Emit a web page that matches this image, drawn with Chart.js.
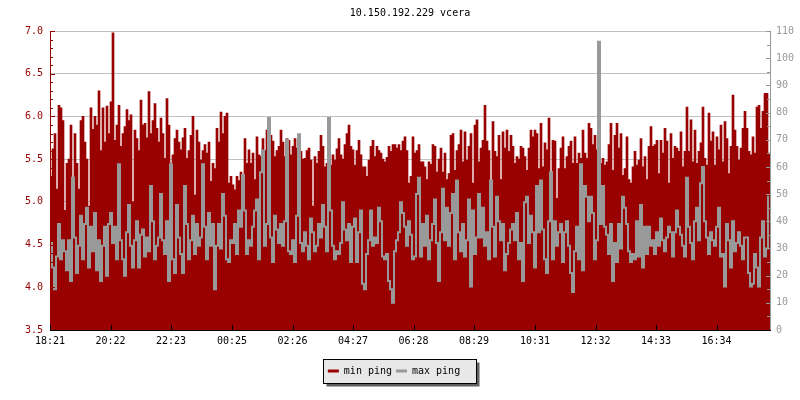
<!DOCTYPE html>
<html>
<head>
<meta charset="utf-8">
<title>10.150.192.229 vcera</title>
<script src="https://cdn.jsdelivr.net/npm/chart.js@4.4.1/dist/chart.umd.min.js"></script>
<style>
  html, body { margin: 0; padding: 0; background: #ffffff; }
  #wrap { width: 800px; height: 400px; }
</style>
</head>
<body>
<div id="wrap"><canvas id="ping-chart" width="800" height="400"></canvas></div>
<script>
// popisky a data (4 minutovy krok)
const chartTitle = '10.150.192.229 vcera';
const seriesNames = ['min ping', 'max ping'];
const tickLabels = ['18:21', '20:22', '22:23', '00:25', '02:26', '04:27',
                    '06:28', '08:29', '10:31', '12:32', '14:33', '16:34'];
const stepMinutes = 4;

// min ping, leva osa (ms), jeden radek = 2 hodiny
const minPing = [
  5.30, 5.62, 5.80, 5.15, 6.13, 6.10, 5.95, 4.90, 5.45, 5.50, 5.90, 5.20, 5.80, 5.45, 5.15, 5.95, 6.00, 5.70, 5.50, 4.95, 6.10, 5.85, 6.00, 5.90, 6.30, 5.60, 6.10, 5.70, 6.12, 5.80,
  6.17, 6.98, 5.72, 5.90, 6.13, 5.65, 5.80, 5.88, 6.08, 5.95, 6.02, 5.00, 5.84, 5.74, 5.60, 6.19, 5.90, 5.92, 5.75, 6.29, 5.80, 5.95, 6.15, 5.86, 5.70, 5.98, 5.80, 5.51, 6.21, 5.90,
  5.45, 5.55, 5.74, 5.84, 5.70, 5.61, 5.75, 5.86, 5.51, 5.60, 5.78, 6.00, 5.08, 5.84, 5.70, 5.49, 5.60, 5.67, 5.57, 5.70, 5.24, 5.45, 5.39, 5.86, 5.70, 6.05, 5.80, 6.00, 6.04, 5.22,
  5.30, 5.20, 5.14, 5.30, 5.25, 5.35, 5.20, 5.74, 5.45, 5.61, 5.45, 5.57, 5.26, 5.76, 5.55, 5.53, 5.74, 5.60, 5.84, 5.65, 5.78, 5.71, 5.53, 5.60, 5.65, 5.84, 5.70, 5.53, 5.74, 5.72,
  5.55, 5.65, 5.74, 5.63, 5.63, 5.59, 5.50, 5.51, 5.60, 5.63, 5.49, 4.95, 5.53, 5.45, 5.59, 5.78, 5.65, 5.41, 5.45, 5.43, 5.43, 5.55, 5.49, 5.62, 5.74, 5.55, 5.50, 5.67, 5.80, 5.90,
  5.65, 5.61, 5.43, 5.60, 5.72, 5.55, 5.41, 5.41, 5.30, 5.49, 5.65, 5.72, 5.53, 5.65, 5.60, 5.57, 5.50, 5.47, 5.52, 5.65, 5.59, 5.67, 5.67, 5.63, 5.67, 5.60, 5.71, 5.76, 5.60, 5.22,
  5.30, 5.76, 5.57, 5.60, 5.67, 5.47, 5.47, 5.41, 5.26, 5.47, 5.44, 5.67, 5.65, 5.35, 5.50, 5.63, 5.35, 5.57, 5.26, 5.33, 5.78, 5.80, 5.37, 5.60, 5.67, 5.84, 5.47, 5.82, 5.49, 5.65,
  5.80, 5.22, 5.90, 5.96, 5.47, 5.63, 5.72, 6.13, 5.71, 5.60, 5.12, 5.94, 5.59, 5.53, 5.78, 5.26, 5.82, 5.63, 5.84, 5.59, 5.78, 5.65, 5.45, 5.53, 5.50, 5.65, 5.63, 5.53, 5.37, 5.63,
  5.84, 5.76, 5.84, 5.80, 5.39, 5.92, 5.41, 5.69, 5.61, 5.98, 5.14, 5.72, 5.71, 5.04, 5.39, 5.63, 5.76, 5.39, 5.53, 5.65, 5.71, 5.45, 5.76, 5.45, 5.57, 5.51, 5.84, 5.57, 5.51, 5.92,
  5.86, 5.67, 5.78, 5.61, 5.59, 5.45, 5.51, 5.43, 5.47, 5.67, 5.92, 5.37, 5.78, 5.92, 5.63, 5.80, 5.31, 5.39, 5.76, 5.26, 5.22, 5.41, 5.59, 5.43, 5.49, 5.74, 5.41, 5.53, 5.26, 5.65,
  5.88, 5.65, 5.67, 5.72, 5.33, 5.72, 5.57, 5.86, 5.71, 5.22, 5.80, 5.51, 5.65, 5.63, 5.59, 5.82, 5.41, 5.59, 6.11, 5.59, 5.96, 5.47, 5.84, 5.45, 5.59, 5.69, 6.11, 5.51, 5.43, 6.04,
  5.71, 5.82, 5.43, 5.76, 5.61, 5.90, 5.47, 5.94, 5.74, 5.33, 5.65, 6.25, 5.84, 5.65, 5.49, 5.63, 5.86, 6.06, 5.86, 5.59, 5.55, 5.76, 5.57, 6.11, 6.13, 5.86, 6.06, 6.27, 6.27, 5.57
];

// max ping, prava osa (ms)
const maxPing = [
  32, 23, 15, 27, 39, 26, 33, 29, 22, 33, 18, 56, 34, 21, 31, 42, 26, 39, 45, 23, 38, 29, 43, 22, 33, 18, 31, 38, 20, 39,
  43, 32, 38, 26, 61, 33, 26, 20, 36, 46, 31, 23, 33, 40, 23, 35, 37, 27, 34, 29, 53, 40, 26, 31, 34, 50, 33, 28, 40, 18,
  61, 26, 21, 46, 34, 28, 21, 53, 39, 26, 33, 42, 28, 39, 31, 34, 61, 38, 26, 43, 31, 39, 15, 31, 39, 30, 50, 42, 26, 25,
  33, 32, 39, 28, 44, 38, 57, 44, 28, 33, 31, 38, 44, 48, 26, 58, 66, 31, 39, 78, 34, 25, 42, 37, 32, 39, 31, 40, 70, 29,
  28, 33, 25, 42, 72, 32, 29, 36, 31, 26, 41, 36, 29, 31, 39, 34, 46, 38, 29, 78, 44, 31, 26, 29, 28, 32, 47, 37, 33, 39,
  25, 38, 41, 25, 36, 44, 17, 15, 28, 33, 44, 31, 34, 32, 45, 40, 27, 26, 28, 18, 15, 10, 29, 33, 36, 47, 43, 38, 31, 40,
  35, 26, 27, 50, 56, 27, 39, 31, 42, 26, 33, 39, 48, 32, 18, 36, 52, 33, 45, 31, 43, 50, 26, 55, 36, 29, 39, 27, 33, 48,
  16, 44, 28, 34, 50, 34, 45, 31, 36, 26, 55, 38, 27, 49, 40, 33, 39, 22, 28, 32, 37, 39, 33, 43, 26, 32, 18, 47, 49, 32,
  42, 36, 23, 53, 36, 55, 37, 26, 21, 40, 58, 26, 40, 31, 36, 39, 25, 36, 40, 31, 21, 14, 29, 38, 26, 61, 22, 53, 49, 40,
  49, 43, 26, 33, 106, 39, 53, 38, 35, 28, 39, 18, 32, 25, 39, 30, 49, 45, 39, 29, 25, 28, 26, 40, 27, 46, 23, 38, 28, 38,
  31, 33, 28, 36, 31, 41, 33, 29, 34, 38, 36, 27, 36, 44, 38, 35, 31, 27, 56, 38, 32, 26, 40, 45, 33, 54, 60, 40, 34, 28,
  36, 33, 31, 38, 45, 27, 28, 16, 39, 33, 23, 40, 29, 32, 36, 31, 26, 34, 34, 21, 16, 17, 28, 23, 16, 34, 40, 27, 30, 49
];

const minColor = '#990000';
const maxColor = '#999999';
const gridColor = '#c0c0c0';

// pozice popisku casu v minutach od zacatku grafu
const toMinutes = s => {
    const [h, m] = s.split(':').map(Number);
    return h * 60 + m;
};
const startMinutes = toMinutes(tickLabels[0]);
const tickOffsets = tickLabels.map(s => (toMinutes(s) - startMinutes + 1440) % 1440);
const spanMinutes = minPing.length * stepMinutes;

Chart.defaults.font.family = "'DejaVu Sans Mono', monospace";
Chart.defaults.font.size = 10;
Chart.defaults.color = '#000000';

// legenda o kousek doleva, jako na predloze
const legendShift = {
    id: 'legendShift',
    afterLayout(chart) {
        if (!chart.legend) return;
        chart.legend.left -= 6;
        chart.legend.right -= 6;
    }
};

// ramecek legendy se stinem
const legendFrame = {
    id: 'legendFrame',
    beforeDraw(chart) {
        const lg = chart.legend;
        if (!lg || !lg.legendHitBoxes || !lg.legendHitBoxes.length) return;
        const boxes = lg.legendHitBoxes;
        const first = boxes[0];
        const last = boxes[boxes.length - 1];
        const ctx = chart.ctx;
        const x = Math.round(first.left - 5) + 0.5;
        const y = Math.round(lg.top - 3) + 0.5;
        const w = Math.round(last.left + last.width + 16 - (first.left - 5));
        const h = 24;
        ctx.save();
        ctx.fillStyle = '#606060';
        ctx.fillRect(x + 3, y + 3, w, h);
        ctx.fillStyle = '#e8e8e8';
        ctx.fillRect(x, y, w, h);
        ctx.strokeStyle = '#000000';
        ctx.lineWidth = 1;
        ctx.strokeRect(x, y, w, h);
        ctx.restore();
    }
};

// osy s carkami smerem dovnitr grafu
const axisPainter = {
    id: 'axisPainter',
    afterDatasetsDraw(chart) {
        const {ctx, chartArea: a, scales} = chart;
        const px = v => Math.round(v) + 0.5;
        ctx.save();
        ctx.lineWidth = 1;

        ctx.strokeStyle = minColor;
        ctx.beginPath();
        ctx.moveTo(px(a.left), a.top);
        ctx.lineTo(px(a.left), a.bottom);
        for (let v = 35; v <= 70; v++) {
            const y = px(scales.y.getPixelForValue(v / 10));
            ctx.moveTo(a.left, y);
            ctx.lineTo(a.left + (v % 5 === 0 ? 5 : 3), y);
        }
        ctx.stroke();

        ctx.strokeStyle = maxColor;
        ctx.beginPath();
        ctx.moveTo(px(a.right), a.top);
        ctx.lineTo(px(a.right), a.bottom);
        for (let v = 0; v <= 110; v += 5) {
            const y = px(scales.y1.getPixelForValue(v));
            ctx.moveTo(a.right + 1, y);
            ctx.lineTo(a.right + 1 - (v % 10 === 0 ? 5 : 4), y);
        }
        ctx.stroke();

        ctx.strokeStyle = '#000000';
        ctx.beginPath();
        ctx.moveTo(a.left, px(a.bottom));
        ctx.lineTo(a.right + 1, px(a.bottom));
        tickOffsets.forEach(t => {
            const x = px(scales.x.getPixelForValue(t));
            ctx.moveTo(x, a.bottom);
            ctx.lineTo(x, a.bottom - 5);
        });
        ctx.stroke();
        ctx.restore();
    }
};

const ctx = document.getElementById('ping-chart').getContext('2d');
new Chart(ctx, {
    type: 'line',
    data: {
        datasets: [{
            type: 'bar',
            label: seriesNames[0],
            data: minPing.map((v, i) => ({x: i * stepMinutes + stepMinutes / 2, y: v})),
            yAxisID: 'y',
            backgroundColor: minColor,
            borderColor: minColor,
            borderWidth: 0,
            barPercentage: 1,
            categoryPercentage: 1,
            order: 2
        }, {
            type: 'line',
            label: seriesNames[1],
            data: maxPing.map((v, i) => ({x: i * stepMinutes + stepMinutes / 2, y: v})),
            yAxisID: 'y1',
            stepped: 'middle',
            fill: false,
            backgroundColor: maxColor,
            borderColor: maxColor,
            borderWidth: 2,
            pointRadius: 0,
            order: 1
        }]
    },
    options: {
        responsive: false,
        animation: false,
        devicePixelRatio: 1,
        layout: {
            padding: {left: 0, right: 0, top: 0, bottom: 14}
        },
        plugins: {
            title: {
                display: true,
                text: chartTitle,
                fullSize: false,
                color: '#000000',
                font: {size: 10, weight: 'normal'},
                padding: {top: 7, bottom: 12}
            },
            legend: {
                display: true,
                position: 'bottom',
                labels: {
                    boxWidth: 11,
                    boxHeight: 3,
                    padding: 4,
                    color: '#000000',
                    font: {size: 10},
                    sort: (a, b) => a.datasetIndex - b.datasetIndex,
                    generateLabels: chart => Chart.defaults.plugins.legend.labels
                        .generateLabels(chart)
                        .map(item => Object.assign(item, {lineWidth: 0}))
                }
            },
            tooltip: {enabled: false}
        },
        scales: {
            x: {
                type: 'linear',
                offset: false,
                min: 0,
                max: spanMinutes,
                afterBuildTicks: scale => {
                    scale.ticks = tickOffsets.map(v => ({value: v}));
                },
                afterFit: scale => { scale.height = 32; },
                ticks: {
                    autoSkip: false,
                    maxRotation: 0,
                    minRotation: 0,
                    padding: 5,
                    color: '#000000',
                    callback: (value, index) => tickLabels[index]
                },
                grid: {display: false, drawTicks: false},
                border: {display: false}
            },
            y: {
                position: 'left',
                min: 3.5,
                max: 7.0,
                afterFit: scale => { scale.width = 50; },
                ticks: {
                    stepSize: 0.5,
                    padding: 7,
                    color: minColor,
                    callback: v => Number(v).toFixed(1)
                },
                grid: {color: gridColor, drawTicks: false},
                border: {display: false}
            },
            y1: {
                position: 'right',
                min: 0,
                max: 110,
                afterFit: scale => { scale.width = 30; },
                ticks: {
                    stepSize: 10,
                    padding: 6,
                    color: maxColor
                },
                grid: {drawOnChartArea: false, drawTicks: false},
                border: {display: false}
            }
        }
    },
    plugins: [legendShift, legendFrame, axisPainter]
});
</script>
</body>
</html>
